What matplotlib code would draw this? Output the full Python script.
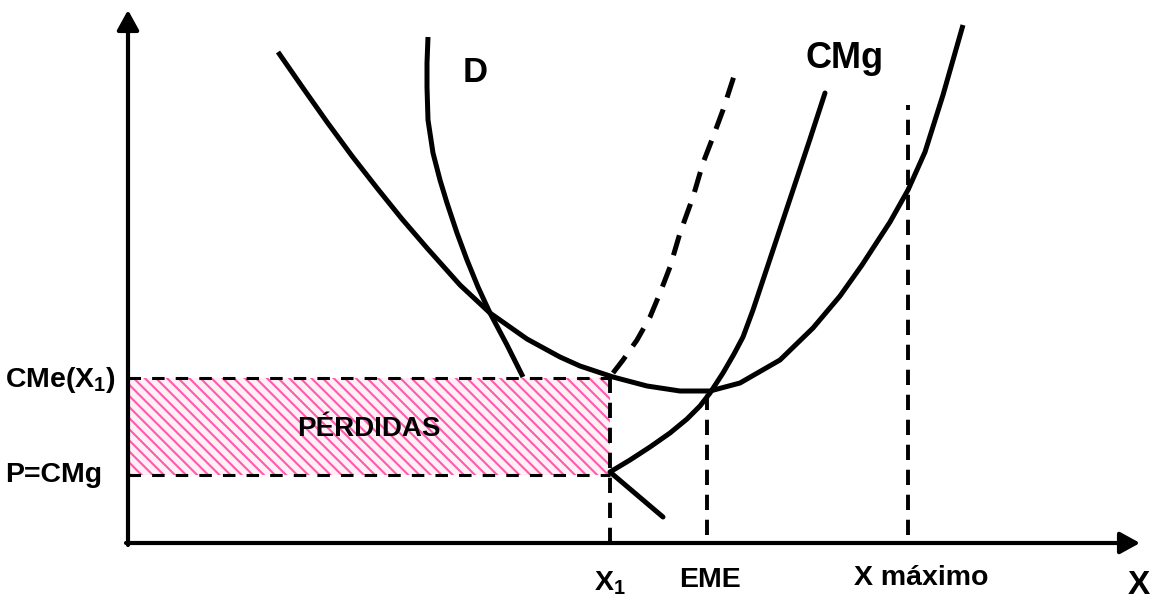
import matplotlib
matplotlib.use("Agg")
import matplotlib.pyplot as plt
from matplotlib.patches import Rectangle

plt.rcParams['font.family'] = ['Liberation Sans', 'DejaVu Sans']
plt.rcParams['font.weight'] = 'bold'
plt.rcParams['mathtext.fontset'] = 'custom'
plt.rcParams['mathtext.rm'] = 'Liberation Sans:bold'
plt.rcParams['mathtext.bf'] = 'Liberation Sans:bold'
plt.rcParams['lines.scale_dashes'] = False
plt.rcParams['hatch.linewidth'] = 1.5

# key quantities on the axes
x1 = 482
eme = 579
x_max = 780
cme_x1 = 165
p_cmg = 68

# average cost curve (U shape)
cme_x = [150, 175, 199, 224, 249, 274, 299, 332, 362, 399, 432, 452, 485, 519, 552,
         582, 612, 652, 685, 712, 734, 762, 780, 797, 815, 835]
cme_y = [491, 455, 421, 387, 355, 324, 295, 258, 230, 204, 186, 177, 166, 157, 152,
         152, 160, 183, 215, 247, 278, 321, 353, 391, 448, 518]

# demand curve
d_x = [300, 299, 299, 300, 305, 312, 319, 329, 339, 350, 362, 379, 395]
d_y = [506, 480, 456, 423, 390, 363, 340, 310, 283, 256, 230, 198, 166]

# marginal cost curve (lower branch + rising branch)
cmg_x = [535, 482, 502, 522, 542, 559, 572, 582, 595, 606, 615, 625, 639, 652, 669, 682, 697]
cmg_y = [26, 71, 83, 96, 110, 124, 137, 150, 170, 189, 206, 233, 275, 314, 365, 404, 450]

# dashed curve
dash_x = [485, 495, 509, 522, 532, 542, 552, 565, 575, 585, 595, 607]
dash_y = [170, 183, 203, 226, 250, 276, 310, 346, 380, 406, 433, 470]

fig = plt.figure(figsize=(11.66, 6.03), dpi=100)
ax = fig.add_axes([0, 0, 1, 1])
ax.set_xlim(-128, 1038)
ax.set_ylim(-60, 543)
ax.axis('off')

# losses area
ax.add_patch(Rectangle((0, p_cmg), x1, cme_x1 - p_cmg, facecolor='#FFF0F6',
                       edgecolor='#FF5AAD', linewidth=0, hatch='\\\\\\', zorder=1))
ax.text(x1 / 2, (p_cmg + cme_x1) / 2 - 2, 'PÉRDIDAS', fontsize=20, ha='center', va='center', zorder=3)

# dashed guide lines
ax.plot([0, x1], [cme_x1, cme_x1], color='black', lw=2.2, dashes=(9, 8), zorder=2)
ax.plot([0, x1], [p_cmg, p_cmg], color='black', lw=2.2, dashes=(9, 8), zorder=2)
ax.plot([x1, x1], [0, cme_x1], color='black', lw=2.8, dashes=(11, 7), zorder=2)
ax.plot([eme, eme], [8, 153], color='black', lw=2.8, dashes=(11, 7), zorder=2)
ax.plot([x_max, x_max], [8, 438], color='black', lw=2.8, dashes=(11, 7), zorder=2)

# curves
ax.plot(cme_x, cme_y, color='black', lw=3.6, solid_capstyle='butt', solid_joinstyle='round', zorder=4)
ax.plot(d_x, d_y, color='black', lw=3.6, solid_capstyle='butt', solid_joinstyle='round', zorder=4)
ax.plot(cmg_x, cmg_y, color='black', lw=3.6, solid_capstyle='round', solid_joinstyle='round', zorder=4)
ax.plot(dash_x, dash_y, color='black', lw=3.6, dashes=(15, 9), zorder=4)

# axes with arrows
arrow = dict(arrowstyle='-|>,head_length=0.6,head_width=0.33', lw=3, color='black',
             mutation_scale=20, shrinkA=0, shrinkB=0)
ax.annotate('', xy=(0, 533), xytext=(0, -2), arrowprops=arrow, zorder=5)
ax.annotate('', xy=(1012, 0), xytext=(-2, 0), arrowprops=arrow, zorder=5)

# labels
ax.text(347, 471, 'D', fontsize=25, ha='center', va='center')
ax.text(717, 484, 'CMg', fontsize=26, ha='center', va='center')
ax.text(-123, 163, r'CMe(X$_\mathbf{1}$)', fontsize=20.5, ha='left', va='center')
ax.text(-123, 68, 'P=CMg', fontsize=20.5, ha='left', va='center')
ax.text(482, -40, r'X$_\mathbf{1}$', fontsize=20.5, ha='center', va='center')
ax.text(582, -37, 'EME', fontsize=20.5, ha='center', va='center')
ax.text(793, -35, 'X máximo', fontsize=20.5, ha='center', va='center')
ax.text(1011, -42, 'X', fontsize=24, ha='center', va='center')

fig.savefig('out.png', dpi=100)
